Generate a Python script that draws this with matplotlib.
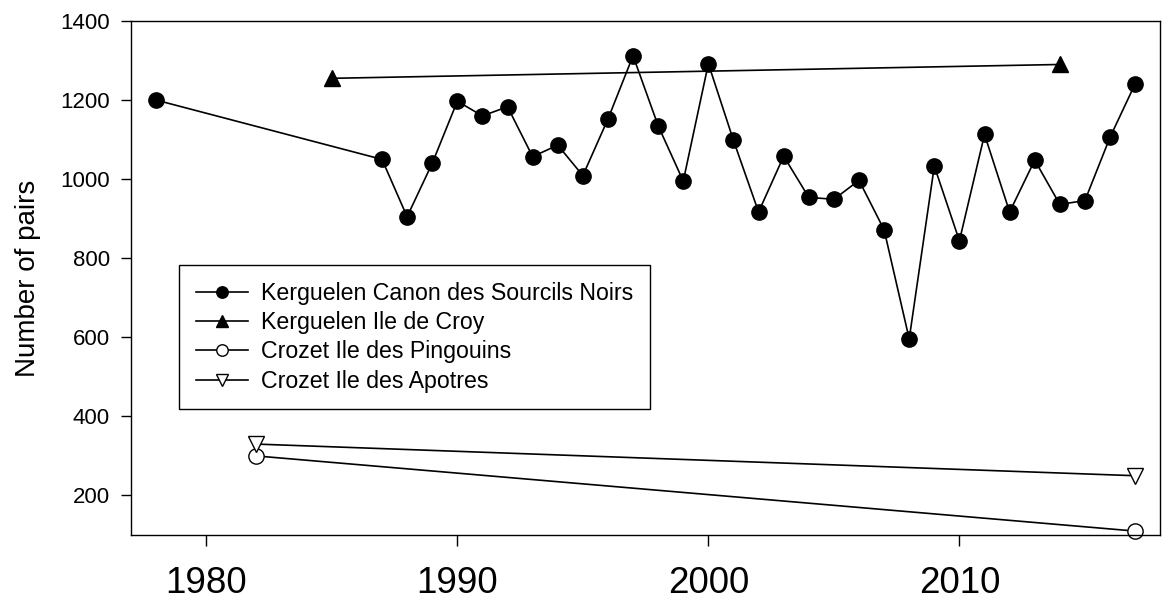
import matplotlib.pyplot as plt

plt.rcParams['font.family'] = ['Liberation Sans', 'DejaVu Sans']

# Kerguelen Canon des Sourcils Noirs
canon_years = [1978, 1987, 1988, 1989, 1990, 1991, 1992, 1993, 1994, 1995, 1996,
               1997, 1998, 1999, 2000, 2001, 2002, 2003, 2004, 2005, 2006, 2007,
               2008, 2009, 2010, 2011, 2012, 2013, 2014, 2015, 2016, 2017]
canon_pairs = [1200, 1050, 905, 1040, 1197, 1160, 1183, 1057, 1086, 1009, 1152,
               1312, 1135, 995, 1292, 1098, 917, 1058, 954, 949, 997, 872,
               596, 1033, 844, 1113, 917, 1048, 936, 946, 1106, 1241]

# Kerguelen Ile de Croy
croy_years = [1985, 2014]
croy_pairs = [1255, 1290]

# Crozet Ile des Pingouins
pingouins_years = [1982, 2017]
pingouins_pairs = [300, 110]

# Crozet Ile des Apotres
apotres_years = [1982, 2017]
apotres_pairs = [330, 250]

fig = plt.figure(figsize=(11.62, 6.08), dpi=100)
ax = fig.add_subplot(111)
fig.subplots_adjust(left=0.1127, right=0.9985, top=0.9655, bottom=0.12)

line_kw = dict(color='black', lw=1.2, markersize=11, clip_on=False,
               markeredgecolor='black', markeredgewidth=1.0)

ax.plot(canon_years, canon_pairs, marker='o', markerfacecolor='black',
        label='Kerguelen Canon des Sourcils Noirs', **line_kw)
ax.plot(croy_years, croy_pairs, marker='^', markerfacecolor='black',
        label='Kerguelen Ile de Croy', **line_kw)
ax.plot(pingouins_years, pingouins_pairs, marker='o', markerfacecolor='white',
        label='Crozet Ile des Pingouins', **line_kw)
ax.plot(apotres_years, apotres_pairs, marker='v', markerfacecolor='white',
        label='Crozet Ile des Apotres', **line_kw)

ax.set_xlim(1977, 2018)
ax.set_ylim(100, 1400)
ax.set_xticks([1980, 1990, 2000, 2010])
ax.set_yticks([200, 400, 600, 800, 1000, 1200, 1400])

ax.tick_params(axis='x', labelsize=26.5, length=8, width=1, pad=14)
ax.tick_params(axis='y', labelsize=16, length=7, width=1, pad=8)
for s in ax.spines.values():
    s.set_linewidth(1.0)

ax.set_ylabel('Number of pairs', fontsize=20, labelpad=14)

leg = ax.legend(loc='upper left', bbox_to_anchor=(0.0466, 0.525), borderaxespad=0,
                fontsize=16.7, frameon=True, fancybox=False, edgecolor='black',
                handlelength=2.24, labelspacing=0.27, borderpad=0.72,
                handletextpad=0.6, framealpha=1, markerscale=0.75)
leg.get_frame().set_linewidth(1.0)

fig.savefig('out.png', dpi=100)
